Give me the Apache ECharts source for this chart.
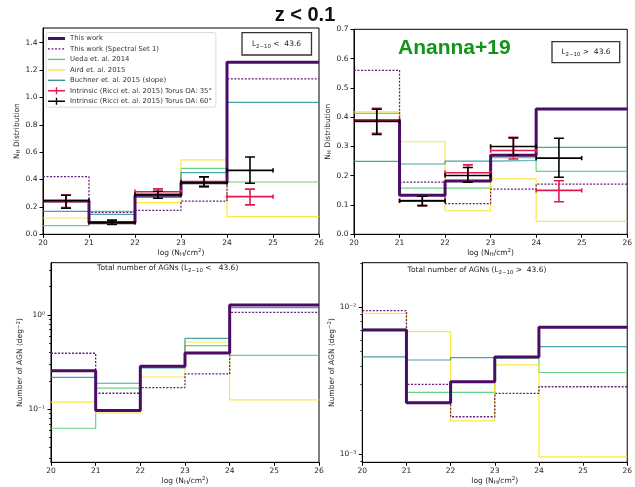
<!DOCTYPE html>
<html>
<head>
<meta charset="utf-8">
<script src="https://cdn.jsdelivr.net/npm/echarts@6/dist/echarts.min.js"></script>
<style>
  html, body { margin: 0; padding: 0; background: #fff; }
  #chart { width: 635px; height: 487px; }
</style>
</head>
<body>
<div id="chart"></div>
<script>
// log(N_H) bin edges; the last bin spans 24-26
const binEdges = [20, 21, 22, 23, 24, 26];
const xTicks = [20, 21, 22, 23, 24, 25, 26];

// ---- N_H distribution, L(2-10) < 43.6 ----
const thisWorkLo = [0.243, 0.085, 0.285, 0.377, 1.256];
const specSetLo  = [0.421, 0.160, 0.175, 0.243, 1.135];
const uedaLo     = [0.063, 0.168, 0.280, 0.482, 0.382];
const airdLo     = [0.119, 0.080, 0.231, 0.543, 0.129];
const buchnerLo  = [0.168, 0.146, 0.270, 0.450, 0.964];

// ---- N_H distribution, L(2-10) > 43.6 ----
const thisWorkHi = [0.388, 0.133, 0.182, 0.270, 0.428];
const specSetHi  = [0.560, 0.178, 0.105, 0.154, 0.171];
const uedaHi     = [0.413, 0.158, 0.158, 0.262, 0.215];
const airdHi     = [0.418, 0.316, 0.080, 0.189, 0.044];
const buchnerHi  = [0.249, 0.240, 0.250, 0.252, 0.297];

// Ricci et al. 2015 intrinsic distributions (bin centre, value, lower, upper)
const ricciX    = [20.5, 21.5, 22.5, 23.5, 24.5];
const ricciXErr = 0.5;
const ricci35LoVal = [0.240, 0.090, 0.311, 0.385, 0.275];
const ricci35LoMin = [0.195, 0.075, 0.288, 0.345, 0.215];
const ricci35LoMax = [0.287, 0.105, 0.332, 0.418, 0.330];
const ricci60LoVal = [0.245, 0.087, 0.290, 0.378, 0.467];
const ricci60LoMin = [0.190, 0.072, 0.263, 0.350, 0.373];
const ricci60LoMax = [0.285, 0.102, 0.315, 0.420, 0.565];
const ricci35HiVal = [0.390, 0.115, 0.210, 0.286, 0.150];
const ricci35HiMin = [0.345, 0.098, 0.180, 0.257, 0.111];
const ricci35HiMax = [0.430, 0.130, 0.237, 0.331, 0.183];
const ricci60HiVal = [0.386, 0.114, 0.201, 0.300, 0.260];
const ricci60HiMin = [0.341, 0.098, 0.178, 0.270, 0.195];
const ricci60HiMax = [0.427, 0.130, 0.228, 0.329, 0.328];

// ---- Total number of AGN (deg^-2) ----
const thisWorkLoN = [0.257, 0.097, 0.286, 0.395, 1.28];
const specSetLoN  = [0.393, 0.148, 0.170, 0.237, 1.067];
const uedaLoN     = [0.063, 0.168, 0.280, 0.473, 0.373];
const airdLoN     = [0.119, 0.091, 0.220, 0.517, 0.126];
const buchnerLoN  = [0.218, 0.189, 0.275, 0.566, 1.20];

const thisWorkHiN = [7.0e-3, 2.24e-3, 3.12e-3, 4.59e-3, 7.31e-3];
const specSetHiN  = [9.5e-3, 2.99e-3, 1.80e-3, 2.60e-3, 2.88e-3];
const uedaHiN     = [7.1e-3, 2.64e-3, 2.64e-3, 4.50e-3, 3.60e-3];
const airdHiN     = [9.1e-3, 6.83e-3, 1.69e-3, 4.06e-3, 0.96e-3];
const buchnerHiN  = [4.6e-3, 4.38e-3, 4.55e-3, 4.57e-3, 5.40e-3];

// axis tick values
const yTicksLo = [0, 0.2, 0.4, 0.6, 0.8, 1.0, 1.2, 1.4];
const yTicksHi = [0, 0.1, 0.2, 0.3, 0.4, 0.5, 0.6, 0.7];
const yMajorLoN = [0.1, 1];
const yMinorLoN = [0.03, 0.04, 0.05, 0.06, 0.07, 0.08, 0.09, 0.2, 0.3, 0.4, 0.5, 0.6, 0.7, 0.8, 0.9, 2, 3];
const yMajorHiN = [0.001, 0.01];
const yMinorHiN = [0.0009, 0.002, 0.003, 0.004, 0.005, 0.006, 0.007, 0.008, 0.009, 0.02];

const names = [
  'This work',
  'This work (Spectral Set 1)',
  'Ueda et. al. 2014',
  'Aird et. al. 2015',
  'Buchner et. al. 2015 (slope)',
  'Intrinsic (Ricci et. al. 2015) Torus OA: 35°',
  'Intrinsic (Ricci et. al. 2015) Torus OA: 60°'
];

const FONT = 'DejaVu Sans';
const styles = [
  { color: '#4b0c66', width: 3, type: 'solid', opacity: 1 },
  { color: '#66207f', width: 1.3, type: [2, 1.5], opacity: 1 },
  { color: '#4ccd6e', width: 1.2, type: 'solid', opacity: 0.85 },
  { color: '#fde52a', width: 1.2, type: 'solid', opacity: 0.9 },
  { color: '#2a919c', width: 1.2, type: 'solid', opacity: 0.85 }
];
const zOrder = [6, 5, 2, 3, 4];
const redCol = '#e5174c';

// legend glyphs: solid bars of the line width, a dashed bar, and an error-bar cross
const iconThick = 'path://M0,0H17V3H0Z';
const iconThin = 'path://M0,0H17V1.3H0Z';
const iconDash = 'path://M0,0H2V1.3H0Z M3.5,0H5.5V1.3H3.5Z M7,0H9V1.3H7Z M10.5,0H12.5V1.3H10.5Z M14,0H16V1.3H14Z M16.9,0H17V1.3H16.9Z';
const iconPlus = 'path://M0,2.8H17V4.2H0Z M7.8,0H9.2V7H7.8Z';

function stepData(vals) {
  return binEdges.map((e, i) => [e, vals[Math.min(i, vals.length - 1)]]);
}

function stepSeries(gi, valsList) {
  return valsList.map((vals, k) => ({
    type: 'line',
    name: names[k],
    xAxisIndex: gi,
    yAxisIndex: gi,
    step: 'end',
    symbol: 'none',
    silent: true,
    clip: true,
    z: zOrder[k],
    data: stepData(vals),
    itemStyle: { color: styles[k].color },
    lineStyle: styles[k]
  }));
}

function renderErrBar(params, api) {
  const x = api.value(0), y = api.value(1), lo = api.value(2), hi = api.value(3), xe = api.value(4);
  const pL = api.coord([x - xe, y]);
  const pR = api.coord([x + xe, y]);
  const pB = api.coord([x, lo]);
  const pT = api.coord([x, hi]);
  const col = api.visual('color');
  const st = { stroke: col, lineWidth: 1.6, fill: null };
  const yc = 5, xc = 2.2;
  const seg = (x1, y1, x2, y2) => ({ type: 'line', shape: { x1, y1, x2, y2 }, style: st });
  return {
    type: 'group',
    children: [
      seg(pL[0], pL[1], pR[0], pR[1]),
      seg(pB[0], pB[1], pT[0], pT[1]),
      seg(pB[0] - yc, pB[1], pB[0] + yc, pB[1]),
      seg(pT[0] - yc, pT[1], pT[0] + yc, pT[1]),
      seg(pL[0], pL[1] - xc, pL[0], pL[1] + xc),
      seg(pR[0], pR[1] - xc, pR[0], pR[1] + xc)
    ]
  };
}

function errSeries(gi, name, color, val, lo, hi, z) {
  return {
    type: 'custom',
    name: name,
    xAxisIndex: gi,
    yAxisIndex: gi,
    silent: true,
    clip: true,
    z: z,
    itemStyle: { color: color },
    renderItem: renderErrBar,
    encode: { x: 0, y: [1, 2, 3] },
    data: ricciX.map((x, i) => [x, val[i], lo[i], hi[i], ricciXErr])
  };
}

const richName = {
  n: { fontSize: 7.5, fontFamily: FONT, color: '#222', lineHeight: 10, verticalAlign: 'middle' },
  s: { fontSize: 5.5, fontFamily: FONT, color: '#222', lineHeight: 5, verticalAlign: 'bottom' },
  p: { fontSize: 5.5, fontFamily: FONT, color: '#222', lineHeight: 5, verticalAlign: 'top' }
};
const xName = '{n|log (N}{s|H}{n|/cm}{p|2}{n|)}';
const nhName = '{n|N}{s|H}{n| Distribution}';
const numName = '{n|Number of AGN (deg}{p|−2}{n|)}';

const supMap = { '-': '⁻', '0': '⁰', '1': '¹', '2': '²', '3': '³', '4': '⁴', '5': '⁵', '6': '⁶', '7': '⁷', '8': '⁸', '9': '⁹' };
function logLabel(v) {
  const e = Math.round(Math.log10(v));
  return '10' + String(e).split('').map(c => supMap[c]).join('');
}

const labelStyle = { fontSize: 7.5, fontFamily: FONT, color: '#222' };
const tickStyle = { lineStyle: { color: '#000', width: 1 }, length: 3.5 };

function xAxis(gi) {
  return {
    type: 'value', gridIndex: gi, min: 20, max: 26, interval: 1,
    name: xName, nameLocation: 'middle', nameGap: 12,
    nameTextStyle: { rich: richName },
    axisLine: { lineStyle: { color: '#000', width: 1 } },
    axisTick: Object.assign({ customValues: xTicks }, tickStyle),
    axisLabel: Object.assign({ margin: 4.5, customValues: xTicks }, labelStyle),
    splitLine: { show: false }
  };
}

function linY(gi, max, ticks, gap) {
  return {
    type: 'value', gridIndex: gi, min: 0, max: max, position: 'left',
    name: nhName, nameLocation: 'middle', nameGap: gap,
    nameTextStyle: { rich: richName },
    axisLine: { show: true, lineStyle: { color: '#000', width: 1 } },
    axisTick: Object.assign({ show: true, customValues: ticks }, tickStyle),
    axisLabel: Object.assign({ margin: 5.5, customValues: ticks, formatter: v => v.toFixed(1) }, labelStyle),
    splitLine: { show: false }
  };
}

function logY(gi, min, max, ticks, gap) {
  return {
    type: 'log', logBase: 10, gridIndex: gi, min: min, max: max, position: 'left',
    name: numName, nameLocation: 'middle', nameGap: gap,
    nameTextStyle: { rich: richName },
    axisLine: { show: true, lineStyle: { color: '#000', width: 1 } },
    axisTick: Object.assign({ show: true, customValues: ticks }, tickStyle),
    axisLabel: Object.assign({ margin: 6, customValues: ticks, formatter: logLabel }, labelStyle),
    splitLine: { show: false }
  };
}

function minorY(gi, min, max, ticks) {
  return {
    type: 'log', logBase: 10, gridIndex: gi, min: min, max: max, position: 'left',
    axisLine: { show: false },
    axisTick: { show: true, customValues: ticks, length: 2, lineStyle: { color: '#000', width: 0.8 } },
    axisLabel: { show: false },
    splitLine: { show: false }
  };
}

const series = [].concat(
  stepSeries(0, [thisWorkLo, specSetLo, uedaLo, airdLo, buchnerLo]),
  [errSeries(0, names[5], redCol, ricci35LoVal, ricci35LoMin, ricci35LoMax, 8),
   errSeries(0, names[6], '#000', ricci60LoVal, ricci60LoMin, ricci60LoMax, 9)],
  stepSeries(1, [thisWorkHi, specSetHi, uedaHi, airdHi, buchnerHi]),
  [errSeries(1, names[5], redCol, ricci35HiVal, ricci35HiMin, ricci35HiMax, 8),
   errSeries(1, names[6], '#000', ricci60HiVal, ricci60HiMin, ricci60HiMax, 9)],
  stepSeries(2, [thisWorkLoN, specSetLoN, uedaLoN, airdLoN, buchnerLoN]),
  stepSeries(3, [thisWorkHiN, specSetHiN, uedaHiN, airdHiN, buchnerHiN])
);

function subText(x, y, pre, post, size) {
  return {
    type: 'text', x: x, y: y, z: 20,
    style: {
      text: '{n|' + pre + '}{s|2−10}{n|' + post + '}',
      align: 'center', verticalAlign: 'middle',
      rich: {
        n: { fontSize: size, fontFamily: FONT, fill: '#222', lineHeight: size + 2, verticalAlign: 'middle' },
        s: { fontSize: size * 0.72, fontFamily: FONT, fill: '#222', lineHeight: 5, verticalAlign: 'bottom' }
      }
    }
  };
}

const option = {
  animation: false,
  backgroundColor: '#fff',
  textStyle: { fontFamily: FONT },
  grid: [
    { left: 43, top: 28, width: 276, height: 206.3, show: true, borderColor: '#000', borderWidth: 1 },
    { left: 354, top: 29.3, width: 275.6, height: 205, show: true, borderColor: '#000', borderWidth: 1 },
    { left: 51, top: 262.7, width: 268, height: 199.6, show: true, borderColor: '#000', borderWidth: 1 },
    { left: 362.3, top: 262.7, width: 267.4, height: 199.6, show: true, borderColor: '#000', borderWidth: 1 }
  ],
  xAxis: [xAxis(0), xAxis(1), xAxis(2), xAxis(3)],
  yAxis: [
    linY(0, 1.507, yTicksLo, 18.5),
    linY(1, 0.7, yTicksHi, 17.5),
    logY(2, 0.02742, 3.586, yMajorLoN, 25.5),
    logY(3, 0.000882, 0.02011, yMajorHiN, 25.5),
    minorY(2, 0.02742, 3.586, yMinorLoN),
    minorY(3, 0.000882, 0.02011, yMinorHiN)
  ],
  legend: {
    orient: 'vertical', left: 46, top: 32.5,
    itemWidth: 17, itemHeight: 7, itemGap: 3.45,
    padding: [2.5, 4, 2.5, 2],
    borderColor: '#d0d0d0', borderWidth: 0.8, borderRadius: 2,
    backgroundColor: 'rgba(255,255,255,0.85)',
    selectedMode: false,
    textStyle: { fontSize: 6.9, color: '#333', fontFamily: FONT },
    data: [
      { name: names[0], icon: iconThick, itemStyle: { color: styles[0].color } },
      { name: names[1], icon: iconDash, itemStyle: { color: styles[1].color } },
      { name: names[2], icon: iconThin, itemStyle: { color: styles[2].color } },
      { name: names[3], icon: iconThin, itemStyle: { color: styles[3].color } },
      { name: names[4], icon: iconThin, itemStyle: { color: styles[4].color } },
      { name: names[5], icon: iconPlus, itemStyle: { color: redCol } },
      { name: names[6], icon: iconPlus, itemStyle: { color: '#000' } }
    ]
  },
  graphic: [
    { type: 'text', x: 305, y: 15, style: { text: 'z < 0.1', font: 'bold 20px "Liberation Sans"', fill: '#111', align: 'center', verticalAlign: 'middle' } },
    { type: 'text', x: 398, y: 48, z: 20, style: { text: 'Ananna+19', font: 'bold 21px "Liberation Sans"', fill: '#12941a', align: 'left', verticalAlign: 'middle' } },
    { type: 'rect', shape: { x: 242, y: 32.7, width: 69.5, height: 22.3 }, z: 19, style: { fill: '#fff', stroke: '#333', lineWidth: 1.3 } },
    subText(276.5, 44, 'L', ' <  43.6', 7.5),
    { type: 'rect', shape: { x: 552, y: 41.7, width: 67.7, height: 21 }, z: 19, style: { fill: '#fff', stroke: '#333', lineWidth: 1.3 } },
    subText(586, 52.2, 'L', ' >  43.6', 7.5),
    subText(167.7, 268.5, 'Total number of AGNs (L', ' <   43.6)', 7.5),
    subText(477, 270.5, 'Total number of AGNs (L', ' >  43.6)', 7.5)
  ],
  series: series
};

const chart = echarts.init(document.getElementById('chart'), null, { renderer: 'canvas' });
chart.setOption(option);
</script>
</body>
</html>
